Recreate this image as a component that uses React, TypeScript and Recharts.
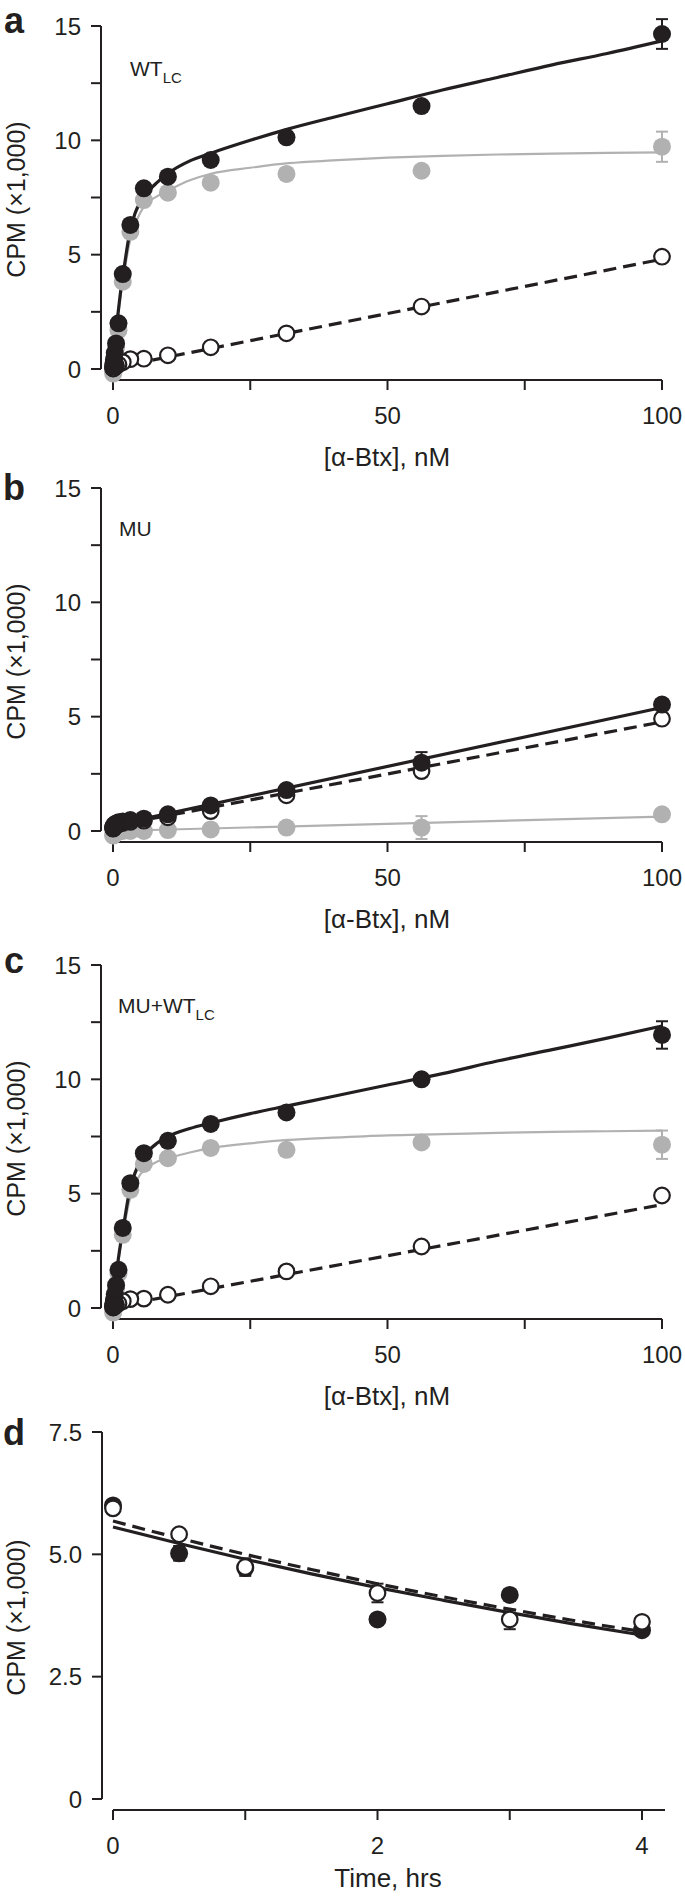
import React from "react";
import {
  ComposedChart,
  Scatter,
  Line,
  XAxis,
  YAxis,
  ErrorBar,
  ReferenceLine,
} from "recharts";

const FONT = '"Liberation Sans", Arial, Helvetica, sans-serif';
const INK = "#231f20";
const GREY = "#b1b1b1";

// [α-Btx] of the binding points, nM
const conc = [100, 56.2, 31.6, 17.8, 10, 5.62, 3.16, 1.78, 1, 0.56, 0.32, 0.18, 0.1, 0.056, 0.032];
const fitConc = [0, 0.25, 0.5, 1, 1.5, 2, 3, 4, 5, 6, 8, 10, 14, 18, 25, 32, 40, 50, 60, 70, 80, 90, 100];
const lineConc = [0, 100];

// a: WT_LC
const totalA = [14.65, 11.5, 10.13, 9.14, 8.41, 7.9, 6.3, 4.15, 2.0, 1.12, 0.7, 0.42, 0.25, 0.15, 0.1];
const totalErrA = [0.65, 0, 0, 0, 0, 0, 0, 0, 0, 0, 0, 0, 0, 0, 0];
const nonspecA = [4.91, 2.73, 1.56, 0.95, 0.6, 0.45, 0.43, 0.3, 0.2, 0.14, 0.1, 0.07, 0.05, 0.03, 0.02];
const specA = [9.72, 8.67, 8.53, 8.15, 7.71, 7.39, 6.0, 3.82, 1.7, 0.95, 0.5, 0.2, 0.0, -0.1, -0.2];
const specErrA = [0.66, 0, 0, 0, 0, 0, 0, 0, 0, 0, 0, 0, 0, 0, 0];
const fitTotalA = [0, 0.8, 1.5, 2.6, 3.6, 4.4, 5.9, 6.8, 7.3, 7.65, 8.15, 8.55, 9.1, 9.45, 10.0, 10.5, 11.0, 11.6, 12.2, 12.75, 13.3, 13.8, 14.35];
const fitSpecA = [0, 0.75, 1.45, 2.5, 3.4, 4.15, 5.5, 6.3, 6.85, 7.2, 7.55, 7.8, 8.25, 8.55, 8.8, 9.0, 9.12, 9.24, 9.32, 9.38, 9.42, 9.45, 9.47];
const fitNonspecA = [0.05, 4.8];

// b: MU
const totalB = [5.53, 2.99, 1.79, 1.12, 0.73, 0.54, 0.48, 0.42, 0.38, 0.33, 0.28, 0.24, 0.2, 0.17, 0.15];
const totalErrB = [0, 0.46, 0, 0, 0, 0, 0, 0, 0, 0, 0, 0, 0, 0, 0];
const nonspecB = [4.91, 2.62, 1.56, 0.87, 0.6, 0.45, 0.4, 0.35, 0.3, 0.25, 0.2, 0.17, 0.15, 0.12, 0.1];
const specB = [0.73, 0.15, 0.15, 0.07, 0.04, 0.0, 0.0, 0.0, -0.02, -0.05, -0.1, -0.12, -0.15, -0.18, -0.2];
const specErrB = [0, 0.5, 0, 0, 0, 0, 0, 0, 0, 0, 0, 0, 0, 0, 0];
const fitTotalB = [0.25, 5.4];
const fitNonspecB = [0.22, 4.77];
const fitSpecB = [0.0, 0.63];

// c: MU+WT_LC
const totalC = [11.94, 10.0, 8.55, 8.05, 7.31, 6.77, 5.46, 3.5, 1.67, 1.0, 0.6, 0.35, 0.2, 0.12, 0.08];
const totalErrC = [0.6, 0, 0, 0, 0, 0, 0, 0, 0, 0, 0, 0, 0, 0, 0];
const nonspecC = [4.92, 2.69, 1.6, 0.95, 0.58, 0.41, 0.39, 0.3, 0.2, 0.14, 0.1, 0.07, 0.05, 0.03, 0.02];
const specC = [7.14, 7.24, 6.92, 7.0, 6.55, 6.3, 5.17, 3.2, 1.5, 0.85, 0.45, 0.2, 0.0, -0.1, -0.2];
const specErrC = [0.62, 0, 0, 0, 0, 0, 0, 0, 0, 0, 0, 0, 0, 0, 0];
const fitTotalC = [0, 0.65, 1.25, 2.2, 3.0, 3.7, 5.1, 5.9, 6.4, 6.75, 7.2, 7.5, 7.85, 8.1, 8.5, 8.85, 9.25, 9.75, 10.25, 10.8, 11.3, 11.8, 12.33];
const fitSpecC = [0, 0.6, 1.2, 2.1, 2.85, 3.5, 4.7, 5.4, 5.85, 6.1, 6.4, 6.55, 6.8, 7.0, 7.2, 7.35, 7.45, 7.55, 7.6, 7.66, 7.7, 7.73, 7.76];
const fitNonspecC = [0.05, 4.52];

// d: time course
const hours = [0, 0.5, 1, 2, 3, 4];
const filledD = [6.0, 5.02, 4.72, 3.67, 4.17, 3.45];
const filledErrD = [0, 0.15, 0, 0, 0, 0];
const openD = [5.94, 5.41, 4.74, 4.21, 3.67, 3.62];
const openErrD = [0, 0, 0.18, 0.19, 0.2, 0];
const fitHours = [0, 0.5, 1, 1.5, 2, 2.5, 3, 3.5, 4];
const fitFilledD = [5.56, 5.22, 4.9, 4.6, 4.32, 4.06, 3.81, 3.57, 3.35];
const fitOpenD = [5.68, 5.33, 5.0, 4.69, 4.4, 4.13, 3.88, 3.64, 3.42];

const concTicks = [0, 25, 50, 75, 100];
const cpmTicks = [0, 2.5, 5, 7.5, 10, 12.5, 15];
const hourTicks = [0, 1, 2, 3, 4];
const cpmTicksD = [0, 2.5, 5, 7.5];

type Pt = { x: number; y: number; e: number };
const pts = (xs: number[], ys: number[], es?: number[]): Pt[] =>
  xs.map((x, i) => ({ x, y: ys[i], e: es ? es[i] : 0 }));

type Kind = "fitGrey" | "fitSolid" | "fitDash" | "grey" | "open" | "solid";
type Series = { kind: Kind; data: Pt[] };

// pixel frame of each panel in the 685x1896 page
type Frame = {
  top: number;
  bottom: number;
  plotTop: number;
  yTopPx: number;
  y0Px: number;
  axisPx: number;
  yTopVal: number;
  yAxisPx: number;
  x0Px: number;
  xTickEndPx: number;
  xTickEndVal: number;
  xAxisEndPx: number;
  plotRight: number;
};

const frameA: Frame = { top: 0, bottom: 470, plotTop: 2, yTopPx: 26, y0Px: 369, axisPx: 380, yTopVal: 15, yAxisPx: 101, x0Px: 113, xTickEndPx: 662, xTickEndVal: 100, xAxisEndPx: 662, plotRight: 682 };
const frameB: Frame = { ...frameA, top: 470, bottom: 940, plotTop: 472, yTopPx: 488, y0Px: 831, axisPx: 842 };
const frameC: Frame = { ...frameA, top: 940, bottom: 1410, plotTop: 942, yTopPx: 965, y0Px: 1308, axisPx: 1319 };
const frameD: Frame = { top: 1410, bottom: 1896, plotTop: 1412, yTopPx: 1432, y0Px: 1799, axisPx: 1810, yTopVal: 7.5, yAxisPx: 102, x0Px: 113, xTickEndPx: 642, xTickEndVal: 4, xAxisEndPx: 665, plotRight: 682 };

const solidDot = (p: any) => <circle cx={p.cx} cy={p.cy} r={9} fill={INK} />;
const greyDot = (p: any) => <circle cx={p.cx} cy={p.cy} r={9} fill={GREY} />;
const openDot = (p: any) => <circle cx={p.cx} cy={p.cy} r={7.8} fill="#fff" stroke={INK} strokeWidth={2.2} />;

interface PanelProps {
  f: Frame;
  series: Series[];
  xTicks: number[];
  yTicks: number[];
  xFmt: (v: number) => string;
  yFmt: (v: number) => string;
}

const Panel = ({ f, series, xTicks, yTicks, xFmt, yFmt }: PanelProps) => {
  const pyy = (f.y0Px - f.yTopPx) / f.yTopVal;
  const yMin = -(f.axisPx - f.y0Px) / pyy;
  const yMax = f.yTopVal + (f.yTopPx - f.plotTop) / pyy;
  const pxx = (f.xTickEndPx - f.x0Px) / f.xTickEndVal;
  const xMin = -(f.x0Px - f.yAxisPx) / pxx;
  const xMax = f.xTickEndVal + (f.plotRight - f.xTickEndPx) / pxx;
  const xAxisEnd = f.xTickEndVal + (f.xAxisEndPx - f.xTickEndPx) / pxx;
  const tickStyle = { fill: INK, fontSize: 24, fontFamily: FONT };

  return (
    <div style={{ position: "absolute", left: 0, top: f.top }}>
      <ComposedChart
        width={685}
        height={f.bottom - f.top}
        margin={{ top: f.plotTop - f.top, right: 685 - f.plotRight, bottom: 0, left: 0 }}
      >
        <XAxis
          type="number"
          dataKey="x"
          domain={[xMin, xMax]}
          ticks={xTicks}
          interval={0}
          tickFormatter={xFmt}
          height={f.bottom - f.axisPx}
          axisLine={false}
          tickLine={{ stroke: INK, strokeWidth: 2 }}
          tickSize={10}
          tickMargin={17}
          tick={tickStyle}
        />
        <YAxis
          type="number"
          dataKey="y"
          domain={[yMin, yMax]}
          ticks={yTicks}
          interval={0}
          tickFormatter={yFmt}
          width={f.yAxisPx}
          axisLine={false}
          tickLine={{ stroke: INK, strokeWidth: 2 }}
          tickSize={10}
          tickMargin={10}
          tick={tickStyle}
        />
        <ReferenceLine
          segment={[{ x: 0, y: yMin }, { x: xAxisEnd, y: yMin }]}
          stroke={INK}
          strokeWidth={2}
          ifOverflow="visible"
        />
        <ReferenceLine
          segment={[{ x: xMin, y: 0 }, { x: xMin, y: f.yTopVal }]}
          stroke={INK}
          strokeWidth={2}
          ifOverflow="visible"
        />
        {series.map((s, i) => {
          if (s.kind === "fitGrey" || s.kind === "fitSolid" || s.kind === "fitDash") {
            return (
              <Line
                key={i}
                data={s.data}
                dataKey="y"
                type="monotone"
                stroke={s.kind === "fitGrey" ? GREY : INK}
                strokeWidth={s.kind === "fitGrey" ? 2.2 : 3.2}
                strokeDasharray={s.kind === "fitDash" ? "13 7" : undefined}
                dot={false}
                activeDot={false}
                isAnimationActive={false}
              />
            );
          }
          const shape = s.kind === "solid" ? solidDot : s.kind === "grey" ? greyDot : openDot;
          return (
            <Scatter key={i} data={s.data} shape={shape} isAnimationActive={false}>
              <ErrorBar
                dataKey="e"
                direction="y"
                width={6}
                stroke={s.kind === "grey" ? GREY : INK}
                strokeWidth={2}
              />
            </Scatter>
          );
        })}
      </ComposedChart>
    </div>
  );
};

const concFmt = (v: number) => (v % 50 === 0 ? String(v) : "");
const cpmFmt = (v: number) => (v % 5 === 0 ? String(v) : "");
const hourFmt = (v: number) => (v % 2 === 0 ? String(v) : "");
const cpmFmtD = (v: number) => (v === 0 ? "0" : v.toFixed(1));

const bindingSeries = (
  fitSpec: number[],
  spec: number[],
  specErr: number[],
  fitNonspec: number[],
  nonspec: number[],
  fitTotal: number[],
  total: number[],
  totalErr: number[],
  fitXs: number[]
): Series[] => [
  { kind: "fitGrey", data: pts(fitXs, fitSpec) },
  { kind: "grey", data: pts(conc, spec, specErr) },
  { kind: "fitDash", data: pts(lineConc, fitNonspec) },
  { kind: "open", data: pts(conc, nonspec) },
  { kind: "fitSolid", data: pts(fitXs, fitTotal) },
  { kind: "solid", data: pts(conc, total, totalErr) },
];

const seriesA = bindingSeries(fitSpecA, specA, specErrA, fitNonspecA, nonspecA, fitTotalA, totalA, totalErrA, fitConc);
const seriesC = bindingSeries(fitSpecC, specC, specErrC, fitNonspecC, nonspecC, fitTotalC, totalC, totalErrC, fitConc);
const seriesB: Series[] = [
  { kind: "fitGrey", data: pts(lineConc, fitSpecB) },
  { kind: "grey", data: pts(conc, specB, specErrB) },
  { kind: "fitDash", data: pts(lineConc, fitNonspecB) },
  { kind: "open", data: pts(conc, nonspecB) },
  { kind: "fitSolid", data: pts(lineConc, fitTotalB) },
  { kind: "solid", data: pts(conc, totalB, totalErrB) },
];
const seriesD: Series[] = [
  { kind: "fitSolid", data: pts(fitHours, fitFilledD) },
  { kind: "fitDash", data: pts(fitHours, fitOpenD) },
  { kind: "solid", data: pts(hours, filledD, filledErrD) },
  { kind: "open", data: pts(hours, openD, openErrD) },
];

const frames = [frameA, frameB, frameC, frameD];

const App = () => {
  return (
    <div
      style={{
        position: "absolute",
        left: 0,
        top: 0,
        width: 685,
        height: 1896,
        background: "#fff",
        fontFamily: FONT,
      }}
    >
      <Panel f={frameA} series={seriesA} xTicks={concTicks} yTicks={cpmTicks} xFmt={concFmt} yFmt={cpmFmt} />
      <Panel f={frameB} series={seriesB} xTicks={concTicks} yTicks={cpmTicks} xFmt={concFmt} yFmt={cpmFmt} />
      <Panel f={frameC} series={seriesC} xTicks={concTicks} yTicks={cpmTicks} xFmt={concFmt} yFmt={cpmFmt} />
      <Panel f={frameD} series={seriesD} xTicks={hourTicks} yTicks={cpmTicksD} xFmt={hourFmt} yFmt={cpmFmtD} />

      <svg
        width={685}
        height={1896}
        style={{ position: "absolute", left: 0, top: 0, pointerEvents: "none" }}
        fontFamily={FONT}
        fill={INK}
      >
        <text x={4} y={33} fontSize={36} fontWeight="bold">a</text>
        <text x={3} y={500} fontSize={36} fontWeight="bold">b</text>
        <text x={4} y={973} fontSize={36} fontWeight="bold">c</text>
        <text x={3} y={1445} fontSize={36} fontWeight="bold">d</text>

        <text x={130} y={76} fontSize={21}>
          WT<tspan fontSize={15} dy={7}>LC</tspan>
        </text>
        <text x={119} y={536} fontSize={21}>MU</text>
        <text x={118} y={1013} fontSize={21}>
          MU+WT<tspan fontSize={15} dy={7}>LC</tspan>
        </text>

        {frames.map((f, i) => {
          const cy = (f.yTopPx + f.y0Px) / 2 + 2;
          return (
            <text key={"y" + i} x={25} y={cy} transform={`rotate(-90 25 ${cy})`} textAnchor="middle" fontSize={25}>
              CPM (×1,000)
            </text>
          );
        })}
        {frames.slice(0, 3).map((f, i) => (
          <text key={"x" + i} x={387} y={f.axisPx + 86} textAnchor="middle" fontSize={26}>
            [α-Btx], nM
          </text>
        ))}
        <text x={388} y={frameD.axisPx + 77} textAnchor="middle" fontSize={26}>
          Time, hrs
        </text>
      </svg>
    </div>
  );
};

export default App;
